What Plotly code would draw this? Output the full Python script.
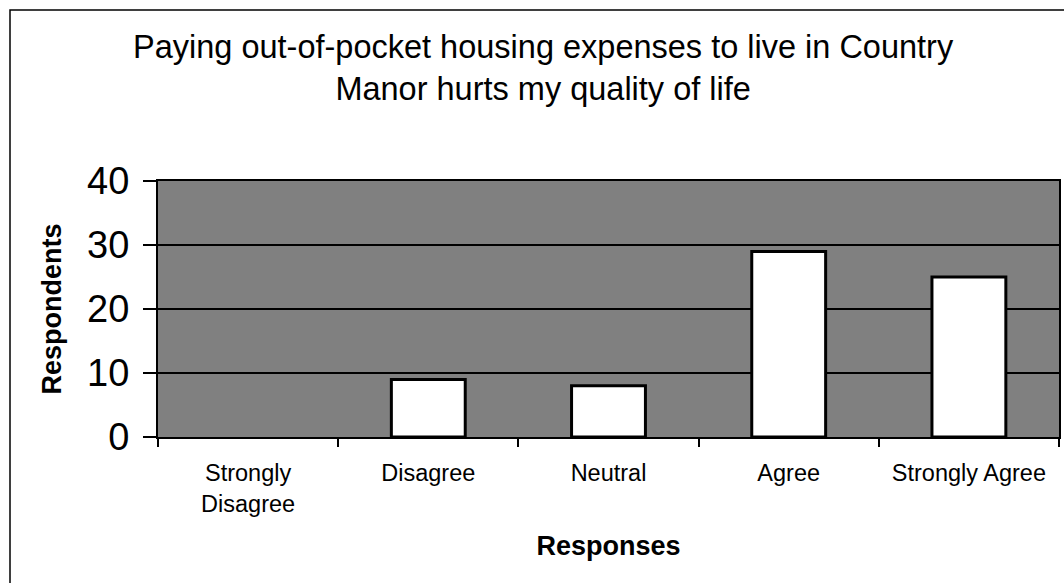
import plotly.graph_objects as go

categories = ["Strongly<br>Disagree", "Disagree", "Neutral", "Agree", "Strongly Agree"]
respondents = [0, 9, 8, 29, 25]
y_ticks = [0, 10, 20, 30, 40]

title_text = "Paying out-of-pocket housing expenses to live in Country<br>Manor hurts my quality of life"

fig = go.Figure()
fig.add_trace(go.Bar(
    x=categories, y=respondents,
    marker=dict(color="white",
                line=dict(color="black", width=[0 if v == 0 else 3 for v in respondents])),
    width=0.41,
))

font_family = "Liberation Sans, Arial, sans-serif"

fig.update_layout(
    width=1064, height=583,
    margin=dict(l=158, r=5, t=181, b=146, autoexpand=False),
    paper_bgcolor="white",
    plot_bgcolor="#808080",
    showlegend=False,
    font=dict(family=font_family, color="black"),
    annotations=[dict(
        text=title_text, xref="paper", yref="paper",
        x=(543 - 158) / 901, y=(437 - 68) / 256,
        xanchor="center", yanchor="middle", showarrow=False,
        font=dict(size=32.5, family=font_family, color="black"),
    )],
    shapes=[dict(
        type="rect", xref="paper", yref="paper",
        x0=(10 - 158) / 901, x1=1.2, y0=-1.0, y1=(437 - 10) / 256,
        line=dict(color="black", width=1.5), fillcolor="rgba(0,0,0,0)", layer="below",
    )],
)

fig.update_xaxes(
    type="category",
    tickson="boundaries",
    ticks="outside", ticklen=8, tickwidth=1.5, tickcolor="black",
    tickfont=dict(size=23.5, family=font_family),
    ticklabelstandoff=14,
    showline=True, linecolor="black", linewidth=2, mirror=True,
    showgrid=False,
    title=dict(text="<b>Responses</b>", font=dict(size=27, family=font_family), standoff=20),
)

fig.update_yaxes(
    range=[0, 40],
    tickvals=y_ticks,
    ticks="outside", ticklen=13, tickwidth=1.5, tickcolor="black",
    tickfont=dict(size=38, family=font_family),
    ticklabelstandoff=6,
    showline=True, linecolor="black", linewidth=2, mirror=True,
    showgrid=True, gridcolor="black", gridwidth=1.5,
    zeroline=False,
    title=dict(text="<b>Respondents</b>", font=dict(size=27, family=font_family), standoff=18),
)

fig.write_html("out.html", config={"displayModeBar": False},
               post_script="document.body.style.margin='0';")
